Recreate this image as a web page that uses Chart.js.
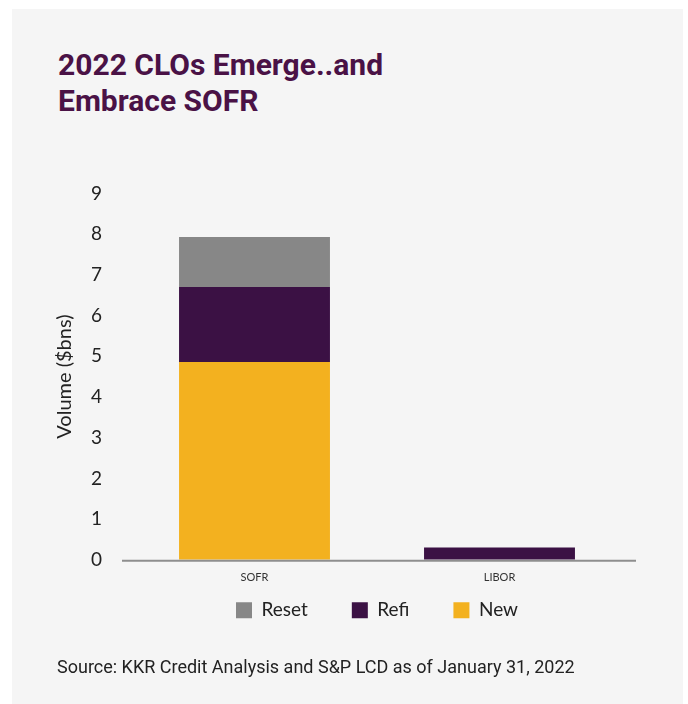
<!DOCTYPE html>
<html>
<head>
<meta charset="utf-8">
<script src="https://cdn.jsdelivr.net/npm/chart.js@4.4.1/dist/chart.umd.min.js"></script>
<style>
  body { margin: 0; background: #fff; width: 688px; height: 704px; overflow: hidden; }
  .panel { position: absolute; left: 12px; top: 9px; width: 671px; height: 695px; background: #f5f5f5; }
  .title { position: absolute; left: 46px; top: 38px; font-family: Roboto, sans-serif; font-weight: 700;
           font-size: 30px; line-height: 36px; color: #4a1246; margin: 0; }
  .source { position: absolute; left: 45px; top: 648px; font-family: Roboto, sans-serif; font-size: 18px;
            line-height: 20px; color: #222; }
  .wrap { position: absolute; left: 0; top: 143px; width: 671px; height: 536px; }
</style>
</head>
<body>
<div class="panel">
  <h1 class="title">2022 CLOs Emerge..and<br>Embrace SOFR</h1>
  <div class="wrap"><canvas id="chart"></canvas></div>
  <div class="source">Source: KKR Credit Analysis and S&amp;P LCD as of January 31, 2022</div>
</div>
<script>
  const categories = ["SOFR", "LIBOR"];
  const newVol = [4.86, 0];
  const refiVol = [1.84, 0.3];
  const resetVol = [1.23, 0];
  const yTicks = [0, 1, 2, 3, 4, 5, 6, 7, 8, 9];

  const fontFamily = "Lato, sans-serif";

  // grey baseline that runs a little past the plot on both sides
  const baseline = {
    id: "baseline",
    afterDatasetsDraw(chart) {
      const { ctx, chartArea } = chart;
      const y = chart.scales.y.getPixelForValue(0);
      ctx.save();
      ctx.strokeStyle = "#8e8e8e";
      ctx.lineWidth = 2;
      ctx.beginPath();
      ctx.moveTo(chartArea.left - 10, y + 1);
      ctx.lineTo(chartArea.right + 14, y + 1);
      ctx.stroke();
      ctx.restore();
    }
  };

  // legend rows sit close under the axis, its top padding overlapping the category labels
  const legendUnderAxis = {
    id: "legendUnderAxis",
    afterLayout(chart) {
      const lg = chart.legend;
      const h = lg.height;
      lg.top = chart.chartArea.bottom - 3;
      lg.bottom = lg.top + h;
    }
  };

  new Chart(document.getElementById("chart"), {
    type: "bar",
    data: {
      labels: categories,
      datasets: [
        { label: "New", data: newVol, backgroundColor: "#f3b11f" },
        { label: "Refi", data: refiVol, backgroundColor: "#3b1144" },
        { label: "Reset", data: resetVol, backgroundColor: "#878787" }
      ]
    },
    options: {
      responsive: true,
      maintainAspectRatio: false,
      animation: false,
      layout: { padding: { top: 25, right: 61, left: 0, bottom: 20 } },
      datasets: { bar: { categoryPercentage: 1, barPercentage: 0.616 } },
      scales: {
        x: {
          stacked: true,
          grid: { display: false, drawTicks: false },
          border: { display: false },
          ticks: { color: "#333", font: { family: fontFamily, size: 11 }, padding: 11 }
        },
        y: {
          stacked: true,
          min: 0,
          max: 9,
          afterFit(scale) { scale.width = 120; },
          afterBuildTicks(scale) { scale.ticks = yTicks.map(v => ({ value: v })); },
          grid: { display: false, drawTicks: false },
          border: { display: false },
          ticks: { color: "#222", font: { family: fontFamily, size: 19 }, padding: 30 },
          title: {
            display: true,
            text: "Volume ($bns)",
            color: "#222",
            font: { family: fontFamily, size: 20 },
            padding: { top: 41, bottom: 0 }
          }
        }
      },
      plugins: {
        legend: {
          position: "bottom",
          fullSize: false,
          reverse: true,
          labels: {
            color: "#222",
            font: { family: fontFamily, size: 19 },
            boxWidth: 16,
            boxHeight: 16,
            padding: 44
          }
        },
        tooltip: { enabled: false }
      }
    },
    plugins: [baseline, legendUnderAxis]
  });
</script>
</body>
</html>
